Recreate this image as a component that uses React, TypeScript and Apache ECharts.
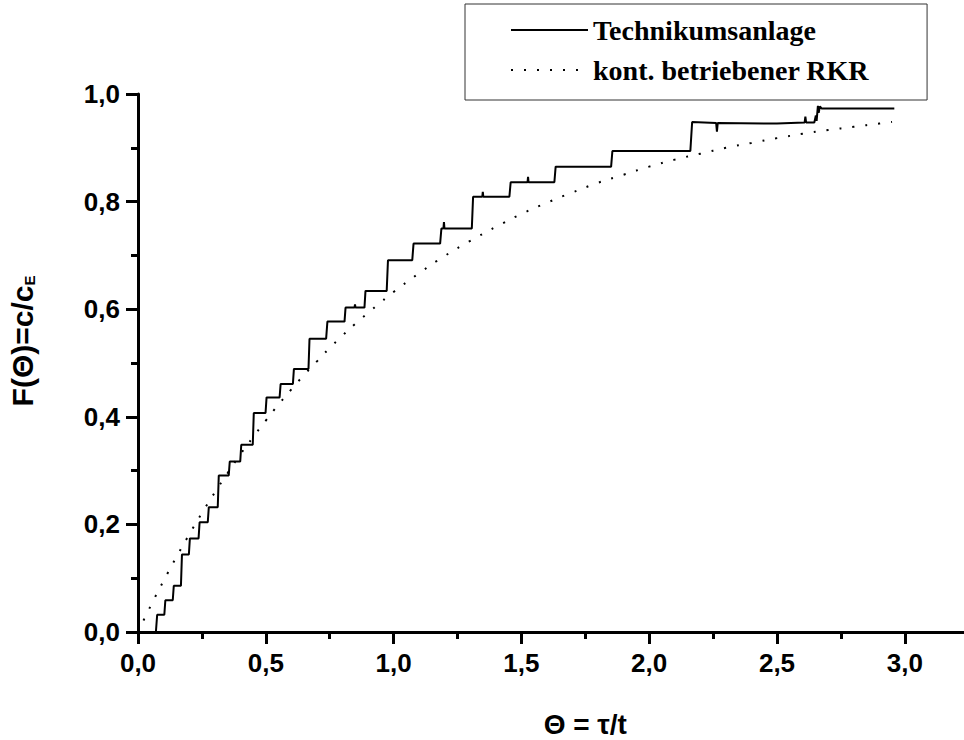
import React, { useEffect, useRef } from "react";
import * as echarts from "echarts";

const stepTheta = [
  0.01, 0.07, 0.075, 0.103, 0.107, 0.136, 0.14, 0.168, 0.172, 0.199, 0.203, 0.237, 0.241, 0.273, 0.277,
  0.312, 0.316, 0.355, 0.359, 0.4, 0.404, 0.449, 0.453, 0.499, 0.503, 0.554, 0.558, 0.606, 0.61, 0.667,
  0.671, 0.736, 0.741, 0.808, 0.812, 0.847, 0.849, 0.851, 0.886, 0.89, 0.973, 0.978, 1.073, 1.078, 1.182,
  1.187, 1.195, 1.197, 1.199, 1.306, 1.311, 1.347, 1.349, 1.351, 1.453, 1.458, 1.524, 1.526, 1.528,
  1.629, 1.634, 1.851, 1.856, 2.161, 2.168, 2.262, 2.265, 2.268, 2.5, 2.608, 2.611, 2.614, 2.646,
  2.652, 2.655, 2.66, 2.663, 2.668, 2.675, 2.959,
];
const stepF = [
  0.0, 0.0, 0.032, 0.032, 0.059, 0.059, 0.086, 0.086, 0.144, 0.144, 0.174, 0.174, 0.204, 0.204, 0.232,
  0.232, 0.291, 0.291, 0.317, 0.317, 0.348, 0.348, 0.407, 0.407, 0.436, 0.436, 0.461, 0.461, 0.489, 0.489,
  0.545, 0.545, 0.577, 0.577, 0.603, 0.603, 0.609, 0.603, 0.603, 0.634, 0.634, 0.691, 0.691, 0.722, 0.722,
  0.75, 0.75, 0.762, 0.75, 0.75, 0.809, 0.809, 0.818, 0.809, 0.809, 0.836, 0.836, 0.846, 0.836,
  0.836, 0.865, 0.865, 0.894, 0.894, 0.948, 0.946, 0.93, 0.946, 0.945, 0.947, 0.958, 0.947, 0.947,
  0.96, 0.95, 0.978, 0.965, 0.977, 0.973, 0.973,
];

const rkrTheta = [
  0.0, 0.05, 0.1, 0.15, 0.2, 0.25, 0.3, 0.35, 0.4, 0.45, 0.5, 0.55, 0.6, 0.65, 0.7, 0.75, 0.8, 0.85, 0.9,
  0.95, 1.0, 1.1, 1.2, 1.3, 1.4, 1.5, 1.6, 1.7, 1.8, 1.9, 2.0, 2.1, 2.2, 2.3, 2.4, 2.5, 2.6, 2.7, 2.8,
  2.9, 2.95,
];
const rkrF = [
  0.0, 0.049, 0.095, 0.139, 0.181, 0.221, 0.259, 0.295, 0.33, 0.362, 0.393, 0.423, 0.451, 0.478, 0.503,
  0.528, 0.551, 0.573, 0.593, 0.613, 0.632, 0.667, 0.699, 0.727, 0.753, 0.777, 0.798, 0.817, 0.835,
  0.85, 0.865, 0.878, 0.889, 0.9, 0.909, 0.918, 0.926, 0.933, 0.939, 0.945, 0.948,
];

const seriesNames = ["Technikumsanlage", "kont. betriebener RKR"];
const xAxisTitle = "Θ = τ/t";
const yAxisTitle = "F(Θ)=c/c{sub|E}";

const sans = "'Liberation Sans', Arial, sans-serif";
const serif = "'Liberation Serif', 'Times New Roman', serif";
const fmt = (v: number) => v.toFixed(1).replace(".", ",");

export default function App() {
  const ref = useRef<HTMLDivElement>(null);
  useEffect(() => {
    if (!ref.current) return;
    const chart = echarts.init(ref.current, undefined, { renderer: "svg" });
    const axisCommon = {
      type: "value" as const,
      splitLine: { show: false },
      axisLine: { show: true, lineStyle: { color: "#000", width: 3 } },
      axisTick: { show: true, length: 12, lineStyle: { color: "#000", width: 3 } },
      minorTick: { show: true, splitNumber: 2, length: 7, lineStyle: { color: "#000", width: 3 } },
      minorSplitLine: { show: false },
      axisLabel: {
        formatter: fmt,
        fontSize: 26,
        fontWeight: "bold",
        fontFamily: sans,
        color: "#000",
        margin: 18,
      },
    };
    chart.setOption({
      animation: false,
      backgroundColor: "#fff",
      grid: {
        left: 138,
        top: 94,
        width: 894.6,
        height: 538,
        containLabel: false,
        outerBoundsMode: "none",
      },
      legend: {
        left: 465,
        top: 4,
        orient: "vertical",
        itemWidth: 77,
        itemHeight: 14,
        itemGap: 12,
        padding: [12, 58, 16, 45],
        borderColor: "#333",
        borderWidth: 1,
        itemStyle: { color: "rgba(0,0,0,0)", borderColor: "rgba(0,0,0,0)", borderWidth: 0, opacity: 0 },
        textStyle: { fontFamily: serif, fontWeight: "bold", fontSize: 28, color: "#000" },
        data: seriesNames,
      },
      xAxis: {
        ...axisCommon,
        min: 0,
        max: 3.5,
        interval: 0.5,
        axisLabel: { ...axisCommon.axisLabel, showMaxLabel: false },
        name: xAxisTitle,
        nameLocation: "middle",
        nameGap: 78,
        nameTextStyle: { fontSize: 28, fontWeight: "bold", fontFamily: sans, color: "#000" },
      },
      yAxis: {
        ...axisCommon,
        min: 0,
        max: 1,
        interval: 0.2,
        name: yAxisTitle,
        nameLocation: "middle",
        nameGap: 101,
        nameTextStyle: {
          fontSize: 30,
          fontWeight: "bold",
          fontFamily: sans,
          color: "#000",
          padding: [0, 0, 0, 44],
          rich: {
            sub: {
              fontSize: 15,
              fontWeight: "bold",
              fontFamily: sans,
              color: "#000",
              verticalAlign: "bottom",
            },
          },
        },
      },
      series: [
        {
          name: seriesNames[0],
          type: "line",
          data: stepTheta.map((t, i) => [t, stepF[i]]),
          showSymbol: false,
          symbol: "none",
          lineStyle: { color: "#000", width: 2 },
          itemStyle: { color: "#000" },
        },
        {
          name: seriesNames[1],
          type: "line",
          data: rkrTheta.map((t, i) => [t, rkrF[i]]),
          showSymbol: false,
          symbol: "none",
          smooth: true,
          lineStyle: { color: "#000", width: 2, type: [2, 11] },
          itemStyle: { color: "#000" },
        },
      ],
    });
    return () => chart.dispose();
  }, []);
  return (
    <div
      ref={ref}
      style={{ position: "absolute", left: 0, top: 0, width: 964, height: 740, overflow: "hidden" }}
    />
  );
}
